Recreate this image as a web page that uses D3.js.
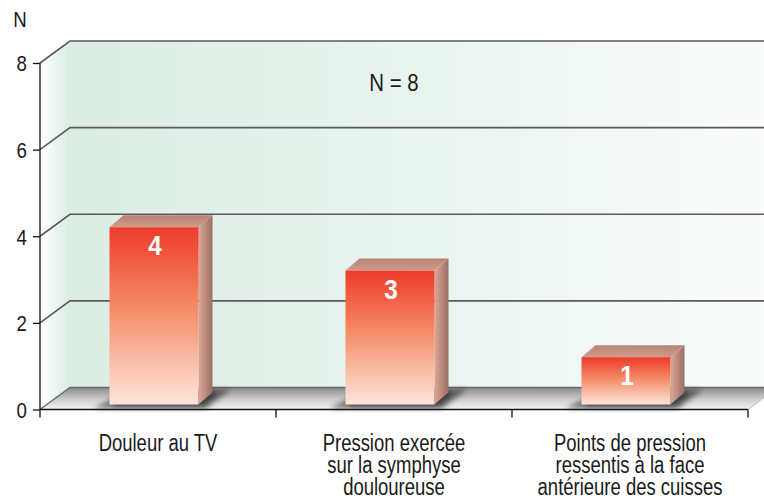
<!DOCTYPE html>
<html>
<head>
<meta charset="utf-8">
<script src="https://cdn.jsdelivr.net/npm/d3@7"></script>
<style>
  body { margin: 0; background: #fff; }
  svg { display: block; }
  text { font-family: "Liberation Sans", Arial, sans-serif; fill: #1a1a1a; }
</style>
</head>
<body>
<div id="chart"></div>
<script>
// data
const categories = ["Douleur au TV", "Pression exercée sur la symphyse douloureuse", "Points de pression ressentis à la face antérieure des cuisses"]
const labelLines = [["Douleur au TV"], ["Pression exercée", "sur la symphyse", "douloureuse"], ["Points de pression", "ressentis à la face", "antérieure des cuisses"]]
const values = [4, 3, 1]
const yTicks = [0, 2, 4, 6, 8]
const note = "N = 8"
const yTitle = "N"

const W = 764, H = 503
const depth = { dx: 30, dy: -22 }
const barDepth = { dx: 14, dy: -12 }
const narrow = 0.77   // condensed look for the labels

const svg = d3.select("#chart").append("svg")
    .attr("width", W)
    .attr("height", H)

const x = d3.scaleBand()
    .domain(categories)
    .range([40, 748])

const y = d3.scaleLinear()
    .domain([0, 8])
    .range([409.5, 63])

const defs = svg.append("defs")

function linGrad(id, x1, y1, x2, y2, stops) {
    const g = defs.append("linearGradient").attr("id", id)
        .attr("x1", x1).attr("y1", y1).attr("x2", x2).attr("y2", y2)
    stops.forEach(s => g.append("stop").attr("offset", s[0]).attr("stop-color", s[1]))
}

linGrad("wallBack", 0, 0, 1, 0, [[0, "#dcede4"], [0.5, "#e9f4ef"], [1, "#fafcfb"]])
linGrad("wallLeft", 0, 0, 1, 0, [[0, "#ffffff"], [1, "#d9ece2"]])
linGrad("floor", 0, 0, 0, 1, [[0, "#8a8a8a"], [0.55, "#cfcfcf"], [1, "#f4f4f4"]])
linGrad("barFront", 0, 0, 0, 1, [[0, "#ee3b2b"], [0.45, "#f48a66"], [1, "#fde6da"]])
linGrad("barSide", 0, 0, 1, 0, [[0, "#dca797"], [1, "#9b6f62"]])
linGrad("barTop", 0, 1, 0, 0, [[0, "#cf9c8b"], [1, "#b78373"]])

const blur = defs.append("filter").attr("id", "blur")
    .attr("x", "-20%").attr("y", "-50%").attr("width", "140%").attr("height", "200%")
blur.append("feGaussianBlur").attr("stdDeviation", 2.5)

const y0 = y(0)

// back wall and left wall
svg.append("rect")
    .attr("x", x.range()[0] + depth.dx)
    .attr("y", y(8) + depth.dy)
    .attr("width", W - (x.range()[0] + depth.dx))
    .attr("height", y0 - y(8))
    .attr("fill", "url(#wallBack)")

svg.append("path")
    .attr("d", d3.line()([[40, y(8)], [40 + depth.dx, y(8) + depth.dy], [40 + depth.dx, y0 + depth.dy], [40, y0]]))
    .attr("fill", "url(#wallLeft)")

// gridlines
const grid = svg.append("g")
yTicks.filter(t => t > 0).forEach(t => {
    grid.append("path")
        .attr("d", d3.line()([[40, y(t)], [40 + depth.dx, y(t) + depth.dy], [W, y(t) + depth.dy]]))
        .attr("fill", "none")
        .attr("stroke", "#5a5a5a")
        .attr("stroke-width", 1.6)
})

// floor
const xEnd = x.range()[1]
svg.append("path")
    .attr("d", d3.line()([[40, y0], [40 + depth.dx, y0 + depth.dy], [W + 20, y0 + depth.dy], [xEnd + depth.dx, y0 + depth.dy], [xEnd, y0]]))
    .attr("fill", "url(#floor)")
svg.append("path")
    .attr("d", d3.line()([[40, y0], [40 + depth.dx, y0 + depth.dy], [W, y0 + depth.dy]]))
    .attr("fill", "none")
    .attr("stroke", "#6a6a6a")
    .attr("stroke-width", 1.4)
svg.append("path")
    .attr("d", d3.line()([[xEnd, y0], [xEnd + depth.dx, y0 + depth.dy]]))
    .attr("fill", "none")
    .attr("stroke", "#bdbdbd")
    .attr("stroke-width", 1)

// bars
const barW = 89
const bars = svg.append("g").selectAll("g")
    .data(values.map((v, i) => ({ v: v, c: categories[i] })))
    .join("g")

bars.each(function(d) {
    const g = d3.select(this)
    const x0 = x(d.c) + x.bandwidth() / 2 - barW / 2 - 4
    const x1 = x0 + barW
    const yb = y0 - 5
    const yt = y(d.v) - 9

    // shadow on the floor
    g.append("path")
        .attr("d", d3.line()([[x0 - 16, y0 - 1], [x1 + 8, y0 - 1], [x1 + 32, y0 + depth.dy + 2], [x0 + 20, y0 + depth.dy + 2]]))
        .attr("fill", "#1e1e1e")
        .attr("opacity", 0.55)
        .attr("filter", "url(#blur)")
    g.append("path")
        .attr("d", d3.line()([[x0 + 4, yb + 1], [x1 + 4, yb + 1], [x1 + barDepth.dx + 4, yb + barDepth.dy], [x0 + 4, yb + barDepth.dy]]))
        .attr("fill", "#111")
        .attr("opacity", 0.6)
        .attr("filter", "url(#blur)")

    g.append("path")
        .attr("d", d3.line()([[x1, yt], [x1 + barDepth.dx, yt + barDepth.dy], [x1 + barDepth.dx, yb + barDepth.dy], [x1, yb]]))
        .attr("fill", "url(#barSide)")
    g.append("path")
        .attr("d", d3.line()([[x0, yt], [x0 + barDepth.dx, yt + barDepth.dy], [x1 + barDepth.dx, yt + barDepth.dy], [x1, yt]]))
        .attr("fill", "url(#barTop)")
    g.append("rect")
        .attr("x", x0).attr("y", yt)
        .attr("width", barW).attr("height", yb - yt)
        .attr("fill", "url(#barFront)")

    g.append("g")
        .attr("transform", "translate(" + ((x0 + x1) / 2 + 1) + "," + (yt + 28) + ") scale(0.9,1)")
        .append("text")
        .attr("text-anchor", "middle")
        .style("font-size", "27px")
        .style("font-weight", "bold")
        .style("fill", "#ffffff")
        .text(d.v)
})

// axes
const yAxis = d3.axisLeft(y).tickValues(yTicks).tickSize(7).tickPadding(5).tickFormat(d3.format("d"))
const gy = svg.append("g").attr("transform", "translate(40,0)").call(yAxis)
gy.select(".domain").attr("d", "M0," + y(8) + "V" + y0).attr("stroke", "#111").attr("stroke-width", 1.3)
gy.selectAll(".tick line").attr("stroke", "#111").attr("stroke-width", 1.3)
gy.selectAll(".tick text").style("font-size", "22px").attr("dy", "0.36em").attr("fill", "#1a1a1a")
    .attr("transform", "scale(0.85,1)")
    .attr("x", -13 / 0.85)

const gx = svg.append("g").attr("transform", "translate(0," + y0 + ")")
gx.append("path").attr("d", "M40,0H" + xEnd).attr("stroke", "#111").attr("stroke-width", 1.6)
gx.selectAll("line.sep")
    .data(categories.map(c => x(c)).concat([xEnd]))
    .join("line")
    .attr("class", "sep")
    .attr("x1", d => d).attr("x2", d => d)
    .attr("y1", 0).attr("y2", 8)
    .attr("stroke", "#111")
    .attr("stroke-width", 1.3)

// category labels
const lab = svg.append("g")
labelLines.forEach((lines, i) => {
    const t = lab.append("g")
        .attr("transform", "translate(" + (x(categories[i]) + x.bandwidth() / 2) + ",0) scale(" + narrow + ",1)")
        .append("text")
        .attr("text-anchor", "middle")
        .style("font-size", "24px")
    lines.forEach((l, j) => {
        t.append("tspan")
            .attr("x", 0)
            .attr("y", 451 + j * 22)
            .text(l)
    })
})

svg.append("g")
    .attr("transform", "translate(20,27) scale(0.85,1)")
    .append("text")
    .attr("text-anchor", "middle")
    .style("font-size", "22px")
    .text(yTitle)

svg.append("g")
    .attr("transform", "translate(394,91) scale(0.85,1)")
    .append("text")
    .attr("text-anchor", "middle")
    .style("font-size", "24px")
    .text(note)
</script>
</body>
</html>
